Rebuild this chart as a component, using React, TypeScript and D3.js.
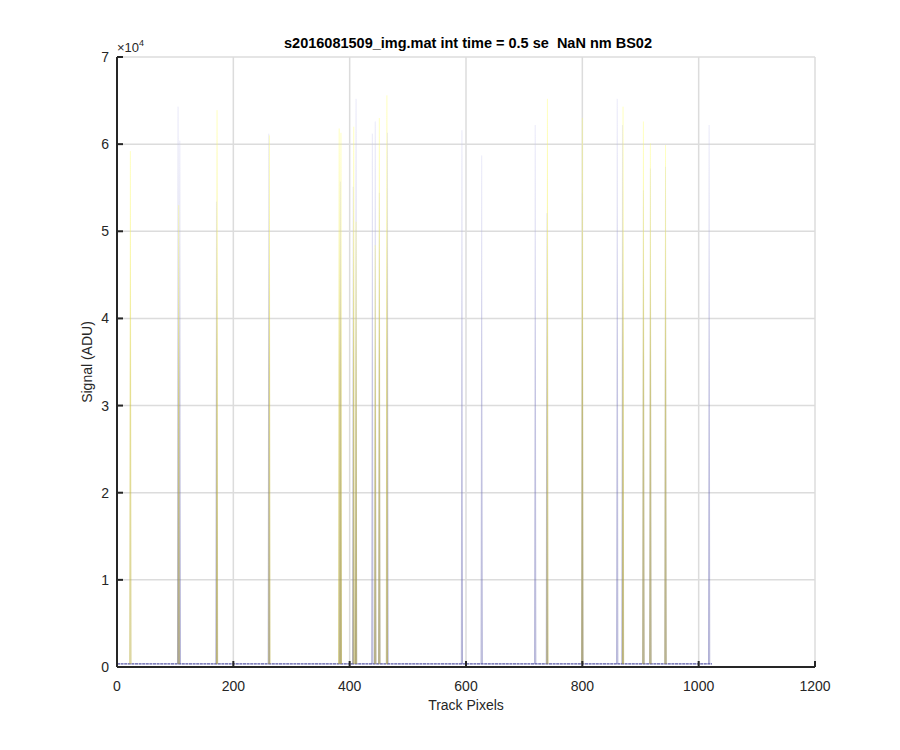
import React from "react";
import * as d3 from "d3";

const titleText = "s2016081509_img.mat int time = 0.5 se\u00a0\u00a0NaN nm BS02";
const xLabelText = "Track Pixels";
const yLabelText = "Signal (ADU)";
const xTicks = [0, 200, 400, 600, 800, 1000, 1200];
const yTicks = [0, 1, 2, 3, 4, 5, 6, 7];
const yExponent = 4;

// track pixel range and constant baseline level of the spectra
const trackStart = 0;
const trackEnd = 1023;
const baselineADU = 350;

// yellow trace spikes: track pixel and peak (ADU)
const yellowX = [23, 106, 172, 262, 382, 385, 407, 411, 444, 451, 464, 740, 800, 870, 905, 917, 943];
const yellowPeak = [59200, 53000, 63900, 61000, 61800, 61300, 62000, 51100, 48400, 63000, 65600, 65200, 63000, 64300, 62600, 60100, 59900];

// purple trace spikes: track pixel and peak (ADU)
const purpleX = [105, 108, 171, 261, 384, 406, 411, 439, 444, 451, 465, 593, 627, 719, 739, 800, 860, 869, 905, 917, 943, 1018];
const purplePeak = [64300, 60400, 53400, 61200, 55700, 55100, 65200, 61200, 62600, 54400, 61300, 61600, 58700, 62200, 52100, 54400, 65200, 62200, 54700, 57200, 57400, 62200];

const W = 900;
const H = 750;
const M = { left: 117, right: 85, top: 57, bottom: 83 };

export default function App() {
  const x = d3.scaleLinear().domain([0, 1200]).range([M.left, W - M.right]);
  const y = d3.scaleLinear().domain([0, 70000]).range([H - M.bottom, M.top]);
  const line = d3
    .line<[number, number]>()
    .x((d) => x(d[0]))
    .y((d) => y(d[1]));

  const spikePath = (px: number, peak: number) =>
    line([
      [px - 1, baselineADU],
      [px, peak],
      [px + 1, baselineADU],
    ]) as string;

  const x0 = M.left;
  const x1 = W - M.right;
  const y0 = H - M.bottom;
  const y1 = M.top;
  const font = "'Liberation Sans', Arial, Helvetica, sans-serif";
  const axisColor = "#262626";
  const gridColor = "#dcdcdc";

  return (
    <svg
      width={W}
      height={H}
      style={{ position: "absolute", left: 0, top: 0, display: "block", background: "#fff" }}
      fontFamily={font}
    >
      <defs>
        <linearGradient id="gYellow" x1="0" y1="1" x2="0" y2="0">
          <stop offset="0" stopColor="#b0a228" stopOpacity={0.95} />
          <stop offset="0.55" stopColor="#d4c838" stopOpacity={0.75} />
          <stop offset="0.8" stopColor="#f4ee50" stopOpacity={0.5} />
          <stop offset="1" stopColor="#ffff60" stopOpacity={0.35} />
        </linearGradient>
        <linearGradient id="gPurple" x1="0" y1="1" x2="0" y2="0">
          <stop offset="0" stopColor="#5a5aa8" stopOpacity={0.85} />
          <stop offset="0.55" stopColor="#7c7cc0" stopOpacity={0.55} />
          <stop offset="0.8" stopColor="#a8a8dc" stopOpacity={0.4} />
          <stop offset="1" stopColor="#c8c8f0" stopOpacity={0.35} />
        </linearGradient>
      </defs>
      <rect x={0} y={0} width={W} height={H} fill="#fff" />

      {/* grid */}
      {xTicks.map((t) => (
        <line key={"gx" + t} x1={x(t)} x2={x(t)} y1={y0} y2={y1} stroke={gridColor} strokeWidth={1.5} />
      ))}
      {yTicks.map((t) => (
        <line key={"gy" + t} x1={x0} x2={x1} y1={y(t * 1e4)} y2={y(t * 1e4)} stroke={gridColor} strokeWidth={1.5} />
      ))}

      {/* baseline of traces */}
      <line
        x1={x(trackStart)}
        x2={x(trackEnd)}
        y1={y(baselineADU)}
        y2={y(baselineADU)}
        stroke="#5858a8"
        strokeWidth={1.2}
        strokeDasharray="3 0.6"
      />

      {/* spikes */}
      {purpleX.map((px, i) => (
        <path key={"p" + i} d={spikePath(px, purplePeak[i])} fill="none" stroke="url(#gPurple)" strokeWidth={0.6} />
      ))}
      {yellowX.map((px, i) => (
        <path key={"y" + i} d={spikePath(px, yellowPeak[i])} fill="none" stroke="url(#gYellow)" strokeWidth={0.6} />
      ))}

      {/* axes */}
      <line x1={x0} x2={x1} y1={y0} y2={y0} stroke={axisColor} strokeWidth={2} />
      <line x1={x0} x2={x0} y1={y0} y2={y1} stroke={axisColor} strokeWidth={2} />
      {xTicks.map((t) => (
        <g key={"tx" + t}>
          <line x1={x(t)} x2={x(t)} y1={y0} y2={y0 - 6} stroke={axisColor} strokeWidth={2} />
          <text x={x(t)} y={y0 + 24} textAnchor="middle" fontSize={14} fill={axisColor}>
            {t}
          </text>
        </g>
      ))}
      {yTicks.map((t) => (
        <g key={"ty" + t}>
          <line x1={x0} x2={x0 + 6} y1={y(t * 1e4)} y2={y(t * 1e4)} stroke={axisColor} strokeWidth={2} />
          <text x={x0 - 8} y={y(t * 1e4) + 5} textAnchor="end" fontSize={14} fill={axisColor}>
            {t}
          </text>
        </g>
      ))}
      <text x={x0} y={y1 - 5} fontSize={13} fill={axisColor}>
        {"\u00d710"}
        <tspan dy={-6} fontSize={9}>
          {yExponent}
        </tspan>
      </text>

      {/* labels */}
      <text x={(x0 + x1) / 2 + 2} y={y1 - 9} textAnchor="middle" fontSize={14.5} fontWeight="bold" fill="#000">
        {titleText}
      </text>
      <text x={(x0 + x1) / 2} y={y0 + 43} textAnchor="middle" fontSize={14} fill={axisColor}>
        {xLabelText}
      </text>
      <text
        transform={`translate(${x0 - 25},${(y0 + y1) / 2}) rotate(-90)`}
        textAnchor="middle"
        fontSize={14}
        fill={axisColor}
      >
        {yLabelText}
      </text>
    </svg>
  );
}
